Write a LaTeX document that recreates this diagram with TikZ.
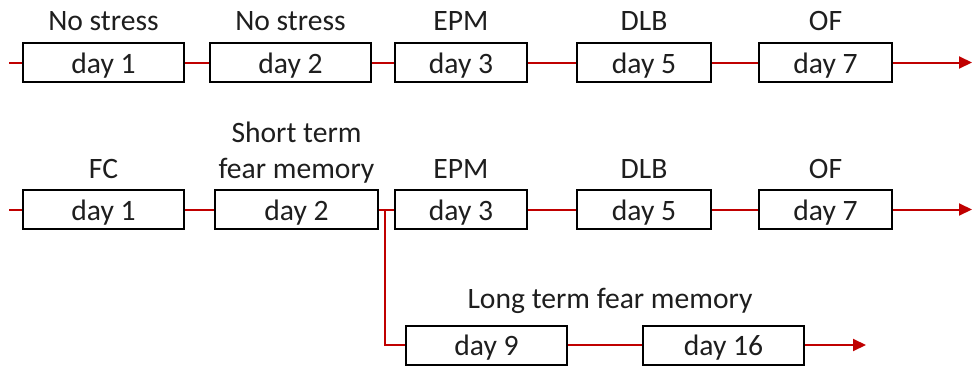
\documentclass[tikz,border=0pt]{standalone}
\usepackage{fontspec}
\setmainfont{Carlito}
\usetikzlibrary{arrows.meta}
\definecolor{lred}{RGB}{192,0,0}
\definecolor{txt}{RGB}{30,30,30}
\tikzset{
  daybox/.style={draw=black, line width=2pt, rectangle, minimum height=39pt, inner sep=0pt,
    text height=21pt, text depth=0pt, text=txt, font=\fontsize{29.6}{34}\selectfont},
  lbl/.style={anchor=base, inner sep=0pt, text=txt, font=\fontsize{29.6}{34}\selectfont},
  link/.style={draw=lred, line width=2pt},
  arr/.style={link, -{Triangle[length=13pt,width=12pt]}}
}
\begin{document}
\begin{tikzpicture}[x=1pt,y=-1pt]
\useasboundingbox (0,0) rectangle (972,367);
% row 1
\node[daybox, minimum width=161pt] (b1) at (103.5,62.5) {day 1};
\node[daybox, minimum width=161pt] (b2) at (290.5,62.5) {day 2};
\node[daybox, minimum width=132pt] (b3) at (461,62.5) {day 3};
\node[daybox, minimum width=134pt] (b4) at (644,62.5) {day 5};
\node[daybox, minimum width=133pt] (b5) at (825.5,62.5) {day 7};
\node[lbl] (lb1) at (103.5,30) {No stress};
\node[lbl] (lb2) at (290.5,30) {No stress};
\node[lbl] (lb3) at (461,30) {EPM};
\node[lbl] (lb4) at (644,30) {DLB};
\node[lbl] (lb5) at (825.5,30) {OF};
\coordinate (s1) at (9,62.5);
\coordinate (e1) at (972,62.5);
\draw[link] (s1) -- (b1.west);
\draw[link] (b1.east) -- (b2.west);
\draw[link] (b2.east) -- (b3.west);
\draw[link] (b3.east) -- (b4.west);
\draw[link] (b4.east) -- (b5.west);
\draw[arr] (b5.east) -- (e1);
% row 2
\node[daybox, minimum width=161pt] (c1) at (103.5,209.5) {day 1};
\node[daybox, minimum width=163pt] (c2) at (296.5,209.5) {day 2};
\node[daybox, minimum width=132pt] (c3) at (461,209.5) {day 3};
\node[daybox, minimum width=134pt] (c4) at (644,209.5) {day 5};
\node[daybox, minimum width=133pt] (c5) at (825.5,209.5) {day 7};
\node[lbl] (lc1) at (103.5,178) {FC};
\node[lbl] (lc2a) at (296.5,142) {Short term};
\node[lbl] (lc2b) at (296.5,178) {fear memory};
\node[lbl] (lc3) at (461,178) {EPM};
\node[lbl] (lc4) at (644,178) {DLB};
\node[lbl] (lc5) at (825.5,178) {OF};
\coordinate (s2) at (9,209.5);
\coordinate (e2) at (972,209.5);
\coordinate (br) at (385,209.5);
\draw[link] (s2) -- (c1.west);
\draw[link] (c1.east) -- (c2.west);
\draw[link] (c2.east) -- (c3.west);
\draw[link] (c3.east) -- (c4.west);
\draw[link] (c4.east) -- (c5.west);
\draw[arr] (c5.east) -- (e2);
% row 3
\node[daybox, minimum width=161pt] (d1) at (486.5,345) {day 9};
\node[daybox, minimum width=161pt] (d2) at (723.5,345) {day 16};
\node[lbl] (ld) at (610,308) {Long term fear memory};
\coordinate (e3) at (866,345);
\draw[link] (br) |- (d1.west);
\draw[link] (d1.east) -- (d2.west);
\draw[arr] (d2.east) -- (e3);
\end{tikzpicture}
\end{document}
